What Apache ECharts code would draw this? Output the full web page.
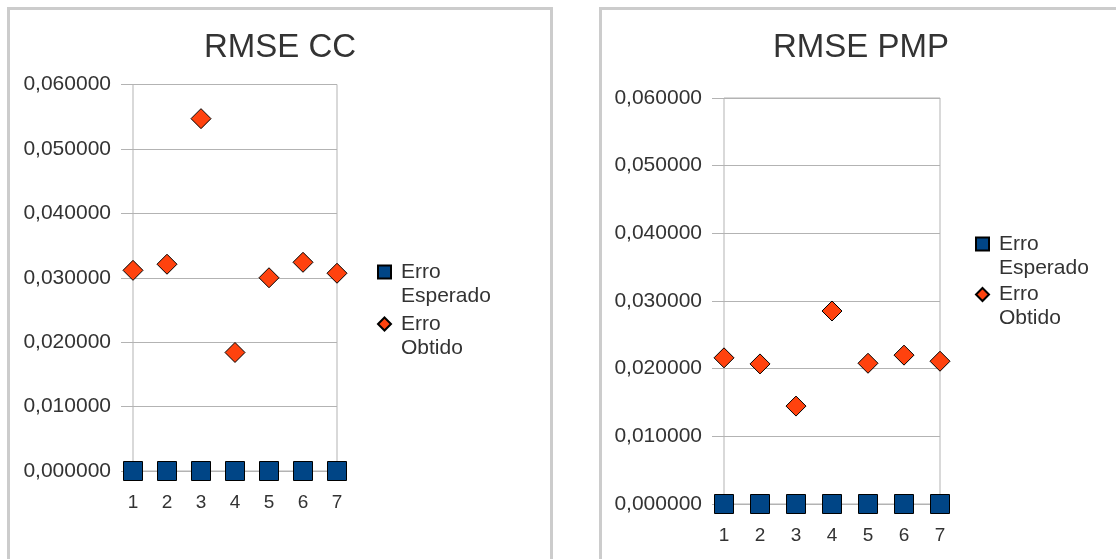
<!DOCTYPE html>
<html>
<head>
<meta charset="utf-8">
<title>RMSE CC / RMSE PMP</title>
<script src="https://cdn.jsdelivr.net/npm/echarts@6/dist/echarts.min.js"></script>
<style>
  html, body { margin: 0; padding: 0; background: #ffffff; }
  #chart { width: 1116px; height: 559px; }
</style>
</head>
<body>
<div id="chart"></div>
<script>
// Run indices shown on the x axis
const categories = [1, 2, 3, 4, 5, 6, 7];

// RMSE CC
const ccEsperado = [0, 0, 0, 0, 0, 0, 0];
const ccObtido = [0.03115, 0.0321, 0.0547, 0.0184, 0.0300, 0.0324, 0.0307];

// RMSE PMP
const pmpEsperado = [0, 0, 0, 0, 0, 0, 0];
const pmpObtido = [0.0216, 0.0207, 0.01447, 0.02852, 0.0208, 0.0220, 0.0211];

// Y axis ticks
const yTicks = [0, 0.01, 0.02, 0.03, 0.04, 0.05, 0.06];

const FONT = '"Liberation Sans", Arial, sans-serif';
const TEXT = '#333333';
const GRID_LINE = '#b3b3b3';
const BLUE = '#004586';
const ORANGE = '#ff420e';

const pairs = (vals) => categories.map((c, i) => [c, vals[i]]);
const fmtY = (v) => v.toFixed(6).replace('.', ',');

function xAxis(gridIndex) {
  return {
    type: 'value', gridIndex,
    min: categories[0], max: categories[categories.length - 1], interval: 1,
    axisLine: { show: false },
    axisTick: { show: true, length: 5, lineStyle: { color: GRID_LINE } },
    splitLine: { show: false },
    axisLabel: { margin: 22, color: TEXT, fontFamily: FONT, fontSize: 19 }
  };
}
function yAxis(gridIndex) {
  return {
    type: 'value', gridIndex,
    min: yTicks[0], max: yTicks[yTicks.length - 1], interval: yTicks[1] - yTicks[0],
    axisLine: { show: false },
    axisTick: { show: true, length: 12, lineStyle: { color: GRID_LINE } },
    splitLine: { show: true, lineStyle: { color: GRID_LINE, width: 1 } },
    axisLabel: { margin: 22, color: TEXT, fontFamily: FONT, fontSize: 21, formatter: fmtY }
  };
}
// Legend entry: icon sits beside the first line of a two-line name
// (a blank leading line keeps "Erro" level with the icon).
function legendFor(name, icon, left, centerY) {
  return {
    data: [{ name, icon }],
    left, top: centerY - 36,
    orient: 'vertical', padding: 0,
    itemWidth: 13, itemHeight: 13,
    selectedMode: false,
    formatter: (n) => '\n' + n.replace(' ', '\n'),
    textStyle: {
      color: TEXT, fontFamily: FONT, fontSize: 21, lineHeight: 24,
      padding: [0, 0, 0, 5]
    }
  };
}
const squareStyle = { color: BLUE, borderColor: '#000000', borderWidth: 1, opacity: 1 };
const diamondStyle = { color: ORANGE, borderColor: '#000000', borderWidth: 1, opacity: 1 };

const chart = echarts.init(document.getElementById('chart'), null, { renderer: 'canvas' });
chart.setOption({
  backgroundColor: '#ffffff',
  animation: false,
  graphic: [
    { type: 'rect', shape: { x: 8.5, y: 8.5, width: 543, height: 600 },
      style: { fill: 'none', stroke: '#cccccc', lineWidth: 3 }, silent: true, z: -1 },
    { type: 'rect', shape: { x: 600.5, y: 8.5, width: 600, height: 600 },
      style: { fill: 'none', stroke: '#cccccc', lineWidth: 3 }, silent: true, z: -1 }
  ],
  title: [
    { text: 'RMSE CC', left: 275, top: 26, textAlign: 'center',
      textStyle: { color: TEXT, fontFamily: FONT, fontSize: 33, fontWeight: 'normal' } },
    { text: 'RMSE PMP', left: 856, top: 26, textAlign: 'center',
      textStyle: { color: TEXT, fontFamily: FONT, fontSize: 33, fontWeight: 'normal' } }
  ],
  legend: [
    legendFor('Erro Esperado', 'rect', 377, 272),
    legendFor('Erro Obtido', 'diamond', 377, 324),
    legendFor('Erro Esperado', 'rect', 975, 244),
    legendFor('Erro Obtido', 'diamond', 975, 294.5)
  ],
  grid: [
    { left: 133, top: 84.5, width: 204, height: 386.5, show: true,
      borderColor: GRID_LINE, borderWidth: 1, containLabel: false },
    { left: 724, top: 98, width: 216, height: 406, show: true,
      borderColor: GRID_LINE, borderWidth: 1, containLabel: false }
  ],
  xAxis: [xAxis(0), xAxis(1)],
  yAxis: [yAxis(0), yAxis(1)],
  series: [
    { name: 'Erro Esperado', type: 'scatter', xAxisIndex: 0, yAxisIndex: 0,
      symbol: 'rect', symbolSize: 19, itemStyle: squareStyle, data: pairs(ccEsperado) },
    { name: 'Erro Obtido', type: 'scatter', xAxisIndex: 0, yAxisIndex: 0,
      symbol: 'diamond', symbolSize: 20, itemStyle: diamondStyle, data: pairs(ccObtido) },
    { name: 'Erro Esperado', type: 'scatter', xAxisIndex: 1, yAxisIndex: 1,
      symbol: 'rect', symbolSize: 19, itemStyle: squareStyle, data: pairs(pmpEsperado) },
    { name: 'Erro Obtido', type: 'scatter', xAxisIndex: 1, yAxisIndex: 1,
      symbol: 'diamond', symbolSize: 20, itemStyle: diamondStyle, data: pairs(pmpObtido) }
  ]
});
</script>
</body>
</html>
